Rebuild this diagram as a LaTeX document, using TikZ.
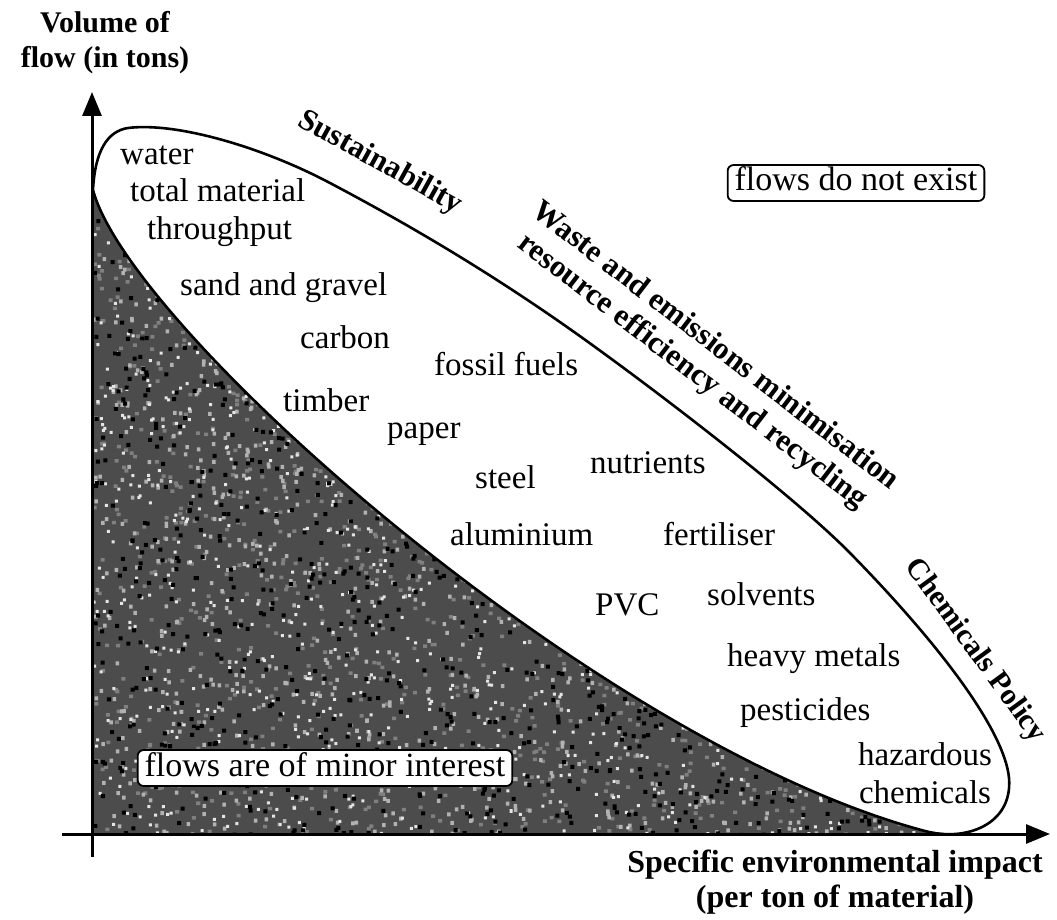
\documentclass[tikz,border=0pt]{standalone}
\usepackage{fontspec}
\setmainfont{Liberation Serif}
\usetikzlibrary{arrows.meta}
\begin{document}
\begin{tikzpicture}[x=1pt,y=-1pt,
  word/.style={font=\fontsize{33}{36}\selectfont, inner sep=0pt, anchor=west,
               text height=23pt, text depth=7pt},
  cword/.style={word, anchor=center},
  axislabel/.style={font=\fontsize{30}{35}\selectfont\bfseries, align=center, inner sep=0pt},
  policy/.style={font=\fontsize{31}{33}\selectfont\bfseries, inner sep=0pt},
  flowbox/.style={draw, line width=1.8pt, rounded corners=6pt, fill=white,
                  font=\fontsize{34}{36}\selectfont, inner xsep=7pt, inner ysep=4pt,
                  text height=22pt, text depth=6pt},
  axis/.style={line width=3pt, -{Triangle[length=24pt,width=19pt]}},
  outline/.style={line width=2.6pt}]
\useasboundingbox (0,0) rectangle (1057,920);

% shaded region under the lower boundary of the flow envelope
\begin{scope}
  \clip (93,190) .. controls (130,330) and (600,745) .. (925,831)
        -- (965,835) -- (93,835) -- cycle;
  \fill[black!70] (80,180) rectangle (980,840);
  \pgfmathsetseed{17}
  \fill[black!50] foreach \i in {1,...,1600}{ ({92+880*rnd},{185+655*rnd}) rectangle ++(4,3.5) };
  \fill[black!30] foreach \i in {1,...,1600}{ ({92+880*rnd},{185+655*rnd}) rectangle ++(3.5,4) };
  \fill[black!10] foreach \i in {1,...,1400}{ ({92+880*rnd},{185+655*rnd}) rectangle ++(3,3) };
  \fill[black]    foreach \i in {1,...,1600}{ ({92+880*rnd},{185+655*rnd}) rectangle ++(4,4) };
\end{scope}

% axes
\draw[axis] (62,834) -- (1050,834);
\draw[axis] (92,857) -- (92,92);

% envelope of material flows
\draw[outline] (93,190) .. controls (130,330) and (600,745) .. (925,831)
  .. controls (965,842) and (1013,825) .. (1009,778)
  .. controls (1005,735) and (950,655) .. (850,553)
  .. controls (790,492) and (637,376) .. (567,327)
  .. controls (480,266) and (400,220) .. (330,183)
  .. controls (260,146) and (175,122) .. (128,128)
  .. controls (108,131) and (95,150) .. (93,190) -- cycle;

% axis titles
\node[axislabel] (ylab) at (105,43) {Volume of\\flow (in tons)};
\node[axislabel, font=\fontsize{32}{35}\selectfont\bfseries] (xlab) at (835,882)
  {Specific environmental impact\\(per ton of material)};

% policy fields along the envelope
\node[policy, rotate=-29] (sust) at (380,163) {Sustainability};
\node[policy, rotate=-37.5] (waste) at (717,344) {Waste and emissions minimisation};
\node[policy, rotate=-37.5] (resource) at (692,372) {resource efficiency and recycling};
\node[policy, font=\fontsize{30}{33}\selectfont\bfseries, rotate=-54] (chem) at (975,651) {Chemicals Policy};

% flows
\node[word] (water)   at (120,157) {water};
\node[word] (total)   at (130,193) {total material};
\node[word] (through) at (147,232) {throughput};
\node[word] (sand)    at (180,287) {sand and gravel};
\node[word] (carbon)  at (300,340) {carbon};
\node[word] (fossil)  at (434,367) {fossil fuels};
\node[word] (timber)  at (283,403) {timber};
\node[word] (paper)   at (387,430) {paper};
\node[word] (steel)   at (475,480) {steel};
\node[word] (nutr)    at (590,465) {nutrients};
\node[word] (alu)     at (450,537) {aluminium};
\node[word] (fert)    at (663,537) {fertiliser};
\node[word] (pvc)     at (595,607) {PVC};
\node[word] (solv)    at (707,597) {solvents};
\node[word] (heavy)   at (727,658) {heavy metals};
\node[word] (pest)    at (740,712) {pesticides};
\node[cword] (haz)    at (925,757) {hazardous};
\node[cword] (chemic) at (925,795) {chemicals};

% region labels
\node[flowbox] (noexist) at (856,183) {flows do not exist};
\node[flowbox] (minor)   at (325,768) {flows are of minor interest};
\end{tikzpicture}
\end{document}
